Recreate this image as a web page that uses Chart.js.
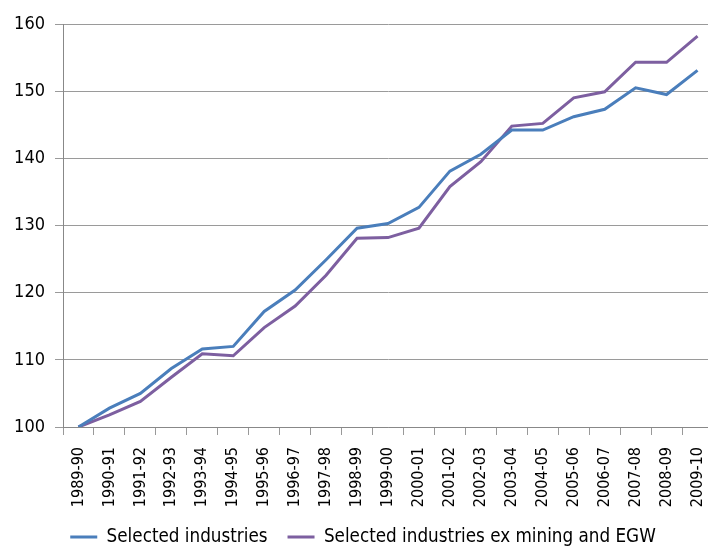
<!DOCTYPE html>
<html>
<head>
<meta charset="utf-8">
<script src="https://cdn.jsdelivr.net/npm/chart.js@4"></script>
<style>
  html, body { margin: 0; padding: 0; background: #fff; overflow: hidden; }
  #wrap { width: 713px; height: 552px; }
</style>
</head>
<body>
<div id="wrap"><canvas id="chart"></canvas></div>
<script>
// Index values, 1989-90 = 100
const years = ['1989-90', '1990-91', '1991-92', '1992-93', '1993-94', '1994-95', '1995-96',
    '1996-97', '1997-98', '1998-99', '1999-00', '2000-01', '2001-02', '2002-03', '2003-04',
    '2004-05', '2005-06', '2006-07', '2007-08', '2008-09', '2009-10'];
const selected = [100, 102.8, 105.0, 108.7, 111.6, 112.0, 117.2, 120.4, 124.9, 129.6, 130.3,
    132.7, 138.1, 140.6, 144.2, 144.2, 146.2, 147.3, 150.5, 149.5, 153.1];
const selectedExMining = [100, 101.8, 103.8, 107.4, 110.9, 110.6, 114.8, 118.0, 122.6, 128.1, 128.2,
    129.6, 135.8, 139.5, 144.8, 145.2, 149.0, 149.9, 154.3, 154.3, 158.2];
const yTicks = [100, 110, 120, 130, 140, 150, 160];

const family = "'DejaVu Sans Condensed', 'Liberation Sans', sans-serif";
Chart.defaults.color = '#000';

const ctx = document.getElementById('chart').getContext('2d');
new Chart(ctx, {
    type: 'line',
    data: {
        labels: years,
        datasets: [
            { label: 'Selected industries', data: selected, borderColor: '#4a7ebb', backgroundColor: '#4a7ebb' },
            { label: 'Selected industries ex mining and EGW', data: selectedExMining, borderColor: '#7d5fa0', backgroundColor: '#7d5fa0' }
        ]
    },
    options: {
        responsive: true,
        maintainAspectRatio: false,
        animation: false,
        elements: {
            line: { borderWidth: 3, tension: 0 },
            point: { radius: 0 }
        },
        layout: { padding: { top: 24, left: 13, right: 0, bottom: -4.35 } },
        plugins: {
            tooltip: { enabled: false },
            legend: {
                position: 'bottom',
                labels: {
                    font: { family, size: 18.7 },
                    boxWidth: 27,
                    boxHeight: 3,
                    padding: 20,
                    generateLabels: chart =>
                        Chart.defaults.plugins.legend.labels.generateLabels(chart)
                            .map(l => ({ ...l, lineWidth: 0, fillStyle: l.strokeStyle }))
                }
            }
        },
        scales: {
            x: {
                offset: true,
                grid: { offset: true, drawOnChartArea: false, tickLength: 8, color: '#999' },
                border: { color: '#888' },
                ticks: { font: { family, size: 16 }, minRotation: 90, maxRotation: 90, padding: 12, autoSkip: false },
                afterFit: s => {
                    s.height = 80.65;
                    s.paddingLeft = 0;
                    s.paddingRight = 0;
                }
            },
            y: {
                min: 100,
                max: 160,
                afterBuildTicks: s => { s.ticks = yTicks.map(v => ({ value: v })); },
                grid: { color: '#9a9a9a', tickLength: 8 },
                border: { color: '#888' },
                ticks: { font: { family, size: 18 }, padding: 10 },
                afterFit: s => {
                    s.width = 50;
                    s.paddingTop = 0;
                    s.paddingBottom = 0;
                }
            }
        }
    }
});
</script>
</body>
</html>
